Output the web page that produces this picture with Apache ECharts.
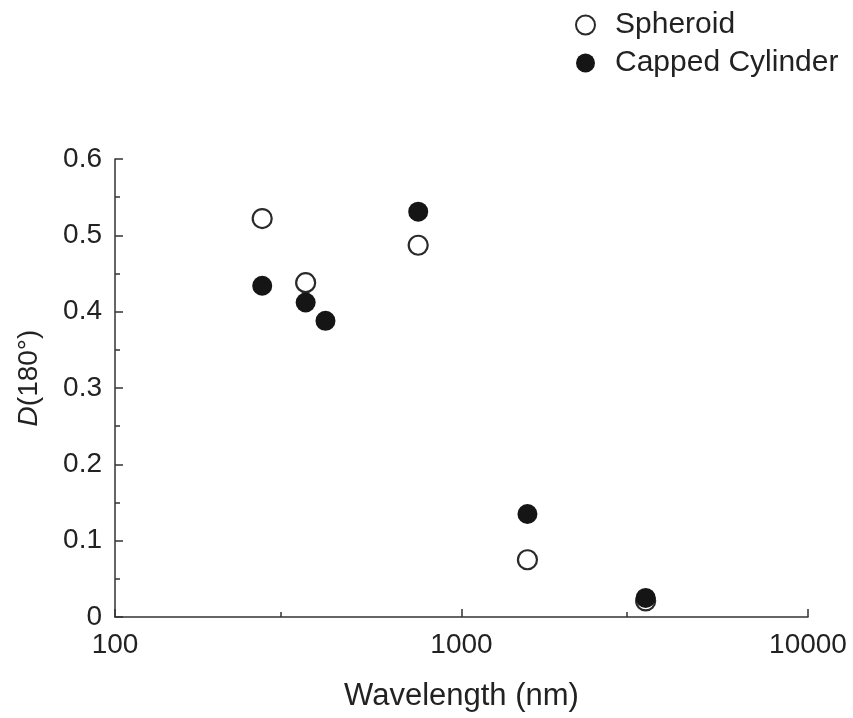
<!DOCTYPE html>
<html lang="en">
  <head>
    <meta charset="UTF-8" />
    <title>D(180°) vs wavelength</title>
    <script src="https://cdn.jsdelivr.net/npm/echarts@6/dist/echarts.min.js"></script>
    <style>
      body { margin: 0; background: #fff; }
      #main { width: 853px; height: 718px; }
    </style>
  </head>
  <body>
    <div id="main"></div>
    <script>
      // wavelength (nm) and D(180°)
      let spheroidX = [266, 355, 750, 1550, 3400];
      let spheroidY = [0.522, 0.438, 0.487, 0.075, 0.021];
      let cylinderX = [266, 355, 405, 750, 1550, 3400];
      let cylinderY = [0.434, 0.412, 0.388, 0.531, 0.135, 0.025];
      let xMinorTicks = [300, 3000];

      function pairs(xs, ys) {
        return xs.map((x, i) => [x, ys[i]]);
      }

      var myChart = echarts.init(document.getElementById("main"));
      var font = "Liberation Sans, Arial, sans-serif";
      var ink = "#222";

      var option = {
        animation: false,
        textStyle: { fontFamily: font, color: ink },
        grid: { left: 115, right: 45, top: 159, bottom: 101 },
        legend: {
          orient: "vertical",
          left: 575,
          top: 10,
          padding: 0,
          icon: "circle",
          itemWidth: 19,
          itemHeight: 19,
          itemGap: 8,
          textStyle: {
            fontSize: 30,
            lineHeight: 30,
            color: ink,
            fontFamily: font,
            padding: [0, 0, 0, 15],
          },
          data: ["Spheroid", "Capped Cylinder"],
        },
        xAxis: [
          {
            type: "log",
            logBase: 10,
            min: 100,
            max: 10000,
            name: "Wavelength (nm)",
            nameLocation: "middle",
            nameGap: 64,
            nameTextStyle: { fontSize: 31, color: ink },
            axisLine: { lineStyle: { color: "#333", width: 1.5 } },
            axisTick: { inside: true, length: 8, lineStyle: { color: "#333", width: 1.5 } },
            axisLabel: { fontSize: 28, color: ink, margin: 14, formatter: (v) => String(v) },
            splitLine: { show: false },
          },
          {
            type: "log",
            logBase: 10,
            min: 100,
            max: 10000,
            position: "bottom",
            axisLine: { show: false },
            axisLabel: { show: false },
            axisTick: {
              inside: true,
              length: 5,
              customValues: xMinorTicks,
              lineStyle: { color: "#333", width: 1.5 },
            },
            splitLine: { show: false },
          },
        ],
        yAxis: {
          type: "value",
          min: 0,
          max: 0.6,
          interval: 0.1,
          name: "{i|D}(180°)",
          nameLocation: "middle",
          nameGap: 72,
          nameRotate: 90,
          nameTextStyle: {
            fontSize: 28,
            color: ink,
            padding: [0, 0, 0, 20],
            rich: { i: { fontStyle: "italic", fontSize: 28, color: ink } },
          },
          axisLine: { show: true, lineStyle: { color: "#333", width: 1.5 } },
          axisTick: { show: true, inside: true, length: 8, lineStyle: { color: "#333", width: 1.5 } },
          minorTick: { show: true, splitNumber: 2, length: 5, lineStyle: { color: "#333", width: 1.5 } },
          axisLabel: {
            fontSize: 28,
            color: ink,
            margin: 13,
            formatter: (v) => (v === 0 ? "0" : v.toFixed(1)),
          },
          splitLine: { show: false },
        },
        series: [
          {
            name: "Spheroid",
            type: "scatter",
            symbol: "circle",
            symbolSize: 19,
            itemStyle: { color: "#fff", borderColor: "#2a2a2a", borderWidth: 2.2, opacity: 1 },
            data: pairs(spheroidX, spheroidY),
            z: 2,
          },
          {
            name: "Capped Cylinder",
            type: "scatter",
            symbol: "circle",
            symbolSize: 20,
            itemStyle: { color: "#151515", borderColor: "#151515", borderWidth: 0, opacity: 1 },
            data: pairs(cylinderX, cylinderY),
            z: 3,
          },
        ],
      };
      myChart.setOption(option);
    </script>
  </body>
</html>
